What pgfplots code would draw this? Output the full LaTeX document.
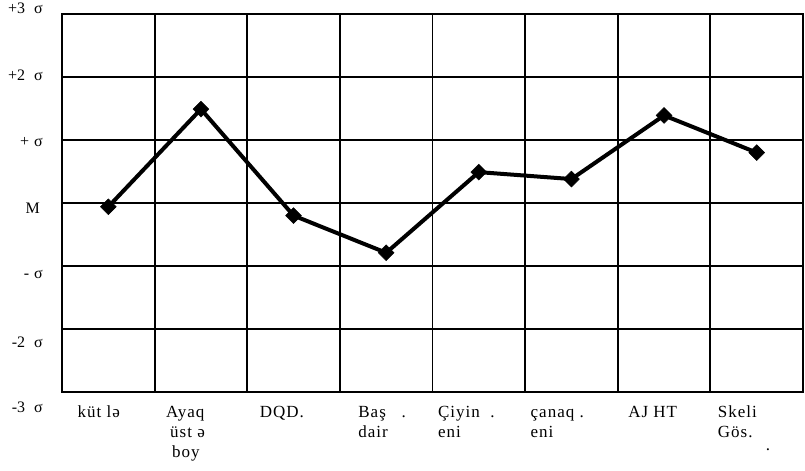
\documentclass[border=0pt]{standalone}
\usepackage{fontspec}
\setmainfont{Liberation Serif}
\usepackage{pgfplots}
\pgfplotsset{compat=1.18}
\newcommand{\fs}{\rule{0pt}{13bp}}
\newcommand{\h}[1]{\hspace*{#1bp}}
\begin{document}
\begin{tikzpicture}
\useasboundingbox (0,0) rectangle (805bp,471bp);
\begin{axis}[
  at={(62bp,79bp)}, anchor=south west,
  scale only axis, width=741bp, height=378bp,
  xmin=-0.5, xmax=7.5, ymin=-3, ymax=3,
  xtick={0,...,7},
  xticklabels={{\fs\h{10}küt lə},{\fs\h{6}Ayaq\\\h{10}üst ə\\\h{12}boy},{\fs\h{7}DQD.},{\fs\h{13}Baş \ \ .\\\h{13}dair},{\fs Çiyin \ .\\eni},{\fs çanaq .\\eni},{\fs\h{5}AJ HT},{\fs\h{2}Skeli\\\h{2}Gös.\\[-7bp]\h{50}.}},
  xticklabel style={anchor=north west, inner sep=0pt, xshift=-41bp, yshift=-12bp, align=left,
    font=\fontsize{17bp}{20bp}\selectfont\addfontfeature{LetterSpace=6}},
  minor xtick={0.5,1.5,...,6.5},
  xminorgrids=true, xmajorgrids=false,
  ytick={-3,-2,-1,0,1,2,3},
  yticklabels={},
  ymajorgrids=true,
  major tick length=0pt, minor tick length=0pt,
  grid style={black, line width=1.8bp},
  minor grid style={black, line width=1.8bp},
  axis line style={black, line width=2.5bp},
  clip=false,
]
\addplot[black, line width=4bp, mark=square*, mark size=5.6bp,
  mark options={rotate=45, solid, fill=black, line width=0.5bp}]
  coordinates {(0,-0.06) (1,1.49) (2,-0.20) (3,-0.79) (4,0.49) (5,0.38) (6,1.39) (7,0.80)};
\begin{scope}[every node/.style={anchor=east, inner sep=0pt, xshift=-19bp,
    font=\fontsize{16bp}{19bp}\selectfont}]
\node at (axis cs:-0.5,3.095) {+3\h{9}σ};
\node at (axis cs:-0.5,2.03) {+2\h{9}σ};
\node at (axis cs:-0.5,0.97) {+\h{5}σ};
\node[xshift=-3bp] at (axis cs:-0.5,-0.08) {M};
\node at (axis cs:-0.5,-1.14) {-\h{5}σ};
\node at (axis cs:-0.5,-2.21) {-2\h{9}σ};
\node at (axis cs:-0.5,-3.25) {-3\h{9}σ};
\end{scope}
\end{axis}
\end{tikzpicture}
\end{document}
